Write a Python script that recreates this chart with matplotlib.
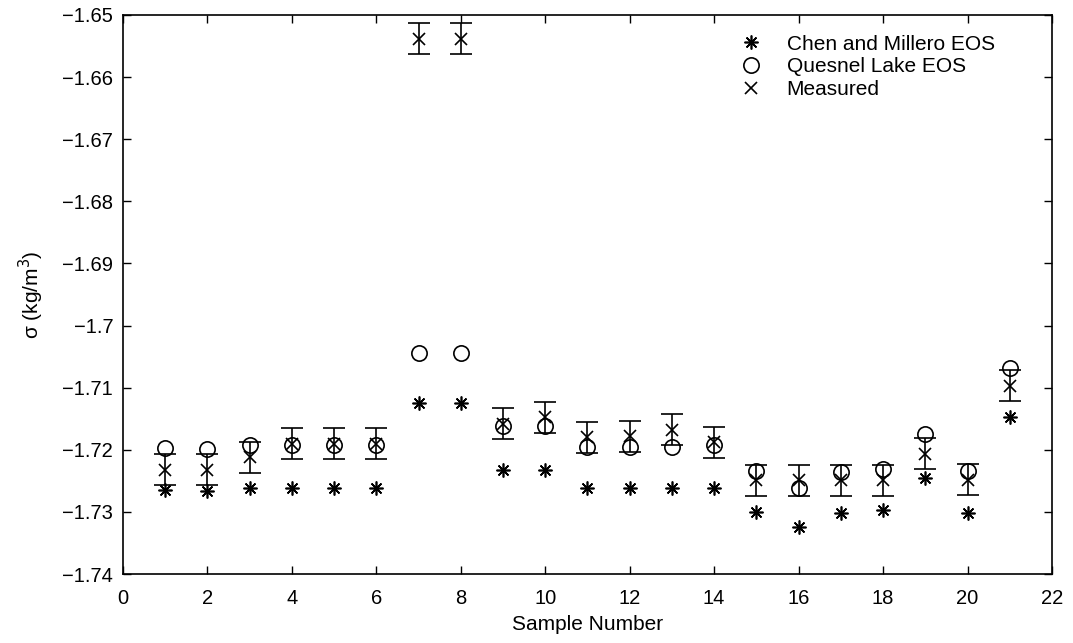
import numpy as np
import matplotlib
matplotlib.use("Agg")
import matplotlib.pyplot as plt
from matplotlib.ticker import FuncFormatter

plt.rcParams['font.family'] = ['Liberation Sans', 'DejaVu Sans']

# Data
samples = list(range(1, 22))
chen_millero = [-1.7265, -1.7267, -1.7262, -1.7262, -1.7262, -1.7262, -1.7124,
                -1.7124, -1.7232, -1.7232, -1.7262, -1.7262, -1.7262, -1.7262,
                -1.7300, -1.7325, -1.7302, -1.7297, -1.7246, -1.7301, -1.7148]
quesnel = [-1.7197, -1.7198, -1.7192, -1.7193, -1.7193, -1.7193, -1.7044,
           -1.7044, -1.7161, -1.7162, -1.7195, -1.7195, -1.7195, -1.7193,
           -1.7234, -1.7262, -1.7236, -1.7231, -1.7175, -1.7234, -1.7069]
measured = [-1.7232, -1.7232, -1.7212, -1.7190, -1.7190, -1.7190, -1.6538,
            -1.6538, -1.7158, -1.7148, -1.7180, -1.7178, -1.7168, -1.7188,
            -1.7249, -1.7249, -1.7249, -1.7249, -1.7206, -1.7248, -1.7097]
measured_err = [0.0025] * 21

fig = plt.figure(figsize=(10.73, 6.43), dpi=100)
ax = fig.add_axes([0.1146, 0.1073, 0.8658, 0.8694])

asterisk = (8, 2, 0)
ax.plot(samples, chen_millero, linestyle='none', marker=asterisk, color='black',
        markersize=10, markeredgewidth=1.2, label='Chen and Millero EOS')
ax.plot(samples, quesnel, linestyle='none', marker='o', markerfacecolor='none',
        markeredgecolor='black', markersize=11, markeredgewidth=1.2,
        label='Quesnel Lake EOS')
ax.errorbar(samples, measured, yerr=measured_err, fmt='none', ecolor='black',
            elinewidth=1.2, capsize=8, capthick=1.2)
ax.plot(samples, measured, linestyle='none', marker='x', color='black',
        markersize=8, markeredgewidth=1.2, label='Measured')

ax.set_xlim(0, 22)
ax.set_ylim(-1.74, -1.65)
ax.set_xticks(np.arange(0, 23, 2))
ax.set_yticks(np.round(np.arange(-1.74, -1.6499, 0.01), 2))
ax.yaxis.set_major_formatter(FuncFormatter(lambda v, p: ('%g' % v).replace('-', '\u2212')))
ax.tick_params(direction='in', length=6, labelsize=14.5, top=True, right=True,
               width=1)
ax.tick_params(axis='x', pad=11)
ax.tick_params(axis='y', pad=7)
for s in ax.spines.values():
    s.set_linewidth(1.2)

ax.set_xlabel('Sample Number', fontsize=15, labelpad=5)
ax.set_ylabel('\u03c3 (kg/m$^3$)', fontsize=15, labelpad=12)

ax.legend(loc='upper left', frameon=False, fontsize=15, handlelength=1.0,
          handletextpad=1.2, borderaxespad=0, borderpad=0, labelspacing=0.18,
          bbox_to_anchor=(0.665, 0.965))

fig.savefig('out.png', dpi=100)
